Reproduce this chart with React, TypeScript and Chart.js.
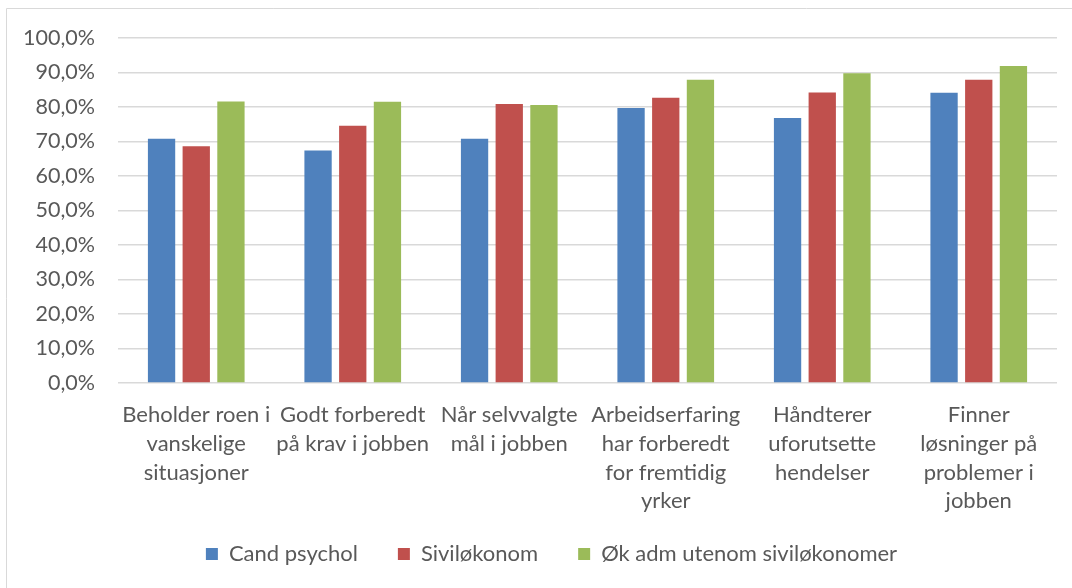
import React, { useEffect, useRef } from "react";
import { Chart, registerables } from "chart.js";

Chart.register(...registerables);

const categories: string[][] = [
  ["Beholder roen i", "vanskelige", "situasjoner"],
  ["Godt forberedt", "på krav i jobben"],
  ["Når selvvalgte", "mål i jobben"],
  ["Arbeidserfaring", "har forberedt", "for fremtidig", "yrker"],
  ["Håndterer", "uforutsette", "hendelser"],
  ["Finner", "løsninger på", "problemer i", "jobben"],
];

const seriesNames = ["Cand psychol", "Siviløkonom", "Øk adm utenom siviløkonomer"];
const candPsychol = [70.8, 67.4, 70.8, 79.7, 76.8, 84.1];
const sivilokonom = [68.6, 74.6, 80.9, 82.7, 84.2, 87.9];
const okAdm = [81.6, 81.5, 80.6, 87.9, 89.8, 91.9];
const seriesColors = ["#4F81BD", "#C0504D", "#9BBB59"];
const yTicks = [0, 10, 20, 30, 40, 50, 60, 70, 80, 90, 100];

const FONT = "Lato, 'Noto Sans', sans-serif";
const TEXT = "#595959";

const borderPlugin = {
  id: "outerBorder",
  afterLayout(chart: any) {
    if (chart.legend) {
      chart.legend.left += 23;
      chart.legend.right += 23;
      chart.legend.top -= 12;
      chart.legend.bottom -= 12;
    }
  },
  beforeDraw(chart: any) {
    const ctx = chart.ctx;
    ctx.save();
    ctx.strokeStyle = "#d9d9d9";
    ctx.lineWidth = 1;
    ctx.beginPath();
    ctx.moveTo(6.5, 600);
    ctx.lineTo(6.5, 8.5);
    ctx.lineTo(1080, 8.5);
    ctx.stroke();
    ctx.restore();
  },
};

export default function App() {
  const ref = useRef<HTMLCanvasElement>(null);
  useEffect(() => {
    document.body.style.margin = "0";
    const data = [candPsychol, sivilokonom, okAdm];
    const chart = new Chart(ref.current!, {
      type: "bar",
      data: {
        labels: categories,
        datasets: seriesNames.map((name, i) => ({
          label: name,
          data: data[i],
          backgroundColor: seriesColors[i],
          borderWidth: 0,
          barPercentage: 0.787,
          categoryPercentage: 0.665,
        })),
      },
      options: {
        animation: false,
        responsive: false,
        maintainAspectRatio: false,
        layout: { padding: { top: 38, right: 15, left: 0, bottom: 1 } },
        plugins: {
          tooltip: { enabled: false },
          legend: {
            position: "bottom",
            labels: {
              color: TEXT,
              font: { family: FONT, size: 22 },
              boxWidth: 12,
              boxHeight: 12,
              padding: 40,
            },
          },
        },
        scales: {
          x: {
            grid: { display: false },
            border: { display: false },
            ticks: {
              color: TEXT,
              font: { family: FONT, size: 22, lineHeight: 1.3 },
              padding: 10,
              maxRotation: 0,
              autoSkip: false,
            },
            afterFit(scale: any) {
              scale.height = 132;
            },
          },
          y: {
            min: 0,
            max: 100,
            afterBuildTicks(scale: any) {
              scale.ticks = yTicks.map((v) => ({ value: v }));
            },
            grid: { color: "#d9d9d9", lineWidth: 1.5, drawTicks: false },
            border: { display: false },
            ticks: {
              color: TEXT,
              font: { family: FONT, size: 21.5 },
              padding: 23,
              callback: (v: any) => Number(v).toFixed(1).replace(".", ",") + "%",
            },
            afterFit(scale: any) {
              scale.width = 118;
            },
          },
        },
      },
      plugins: [borderPlugin],
    });
    return () => chart.destroy();
  }, []);
  return (
    <div style={{ position: "absolute", left: 0, top: 0, width: 1072, height: 588 }}>
      <canvas ref={ref} width={1072} height={588} style={{ display: "block" }} />
    </div>
  );
}
